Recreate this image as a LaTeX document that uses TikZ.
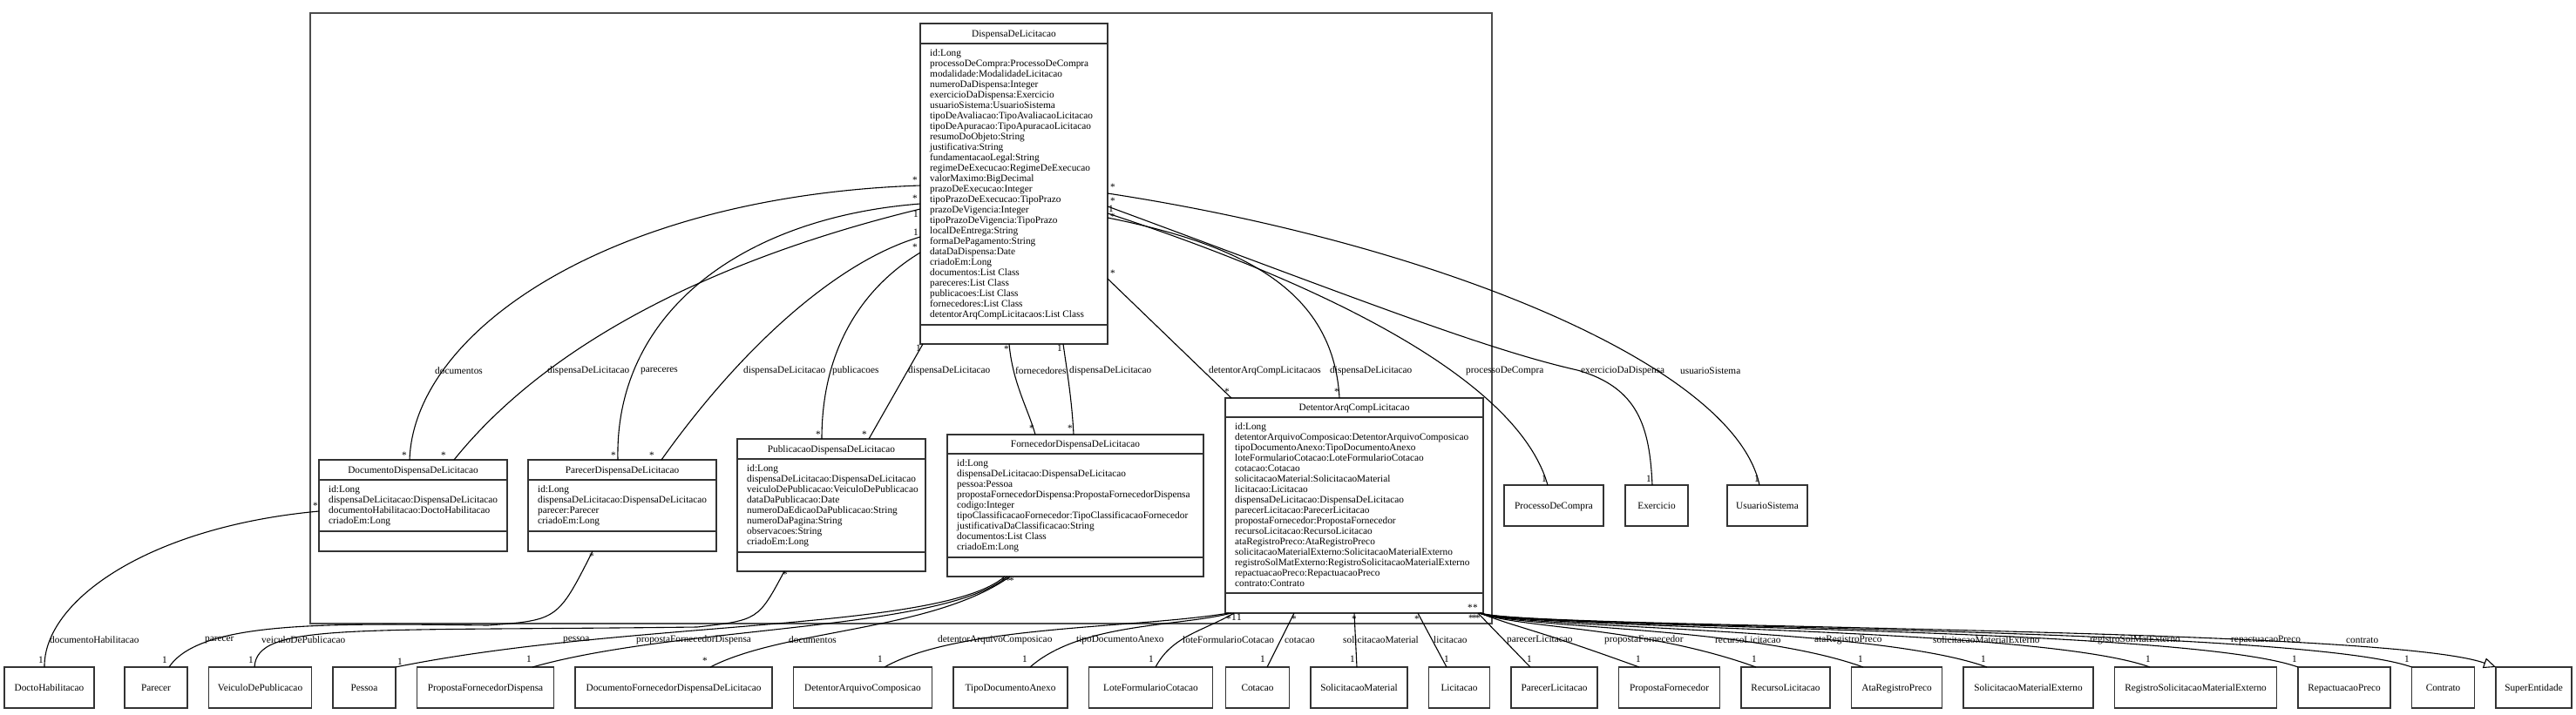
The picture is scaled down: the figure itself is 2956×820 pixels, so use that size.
\documentclass[tikz,border=0pt]{standalone}
\usepackage{fontspec}
\setmainfont{Liberation Serif}
\usetikzlibrary{positioning,arrows.meta}

% class box: name, x1, y1, x2, y2, title rule, attribute rule, title, attributes
\newcommand{\umlclass}[9]{%
  \node[class node,minimum width={#4-#2},minimum height={#5-#3}] (#1) at ({(#2+#4)/2},{(#3+#5)/2}) {};
  \draw[class line] (#2,#6) -- (#4,#6) (#2,#7) -- (#4,#7);
  \node[title text] at ({(#2+#4)/2},{(#3+#6)/2}) {#8};
  \node[attr text] at ({#2+11},{#6+6.5}) {#9};
}

\begin{document}
\begin{tikzpicture}[x=1pt,y=-1pt,node distance=24.5pt,
    class node/.style={rectangle,draw=black!80,line width=1.6pt,inner sep=0pt,outer sep=0pt},
    class line/.style={draw=black!80,line width=1.6pt},
    title text/.style={inner sep=0pt,text height=7.5pt,text depth=0pt,font=\fontsize{11.3}{12}\selectfont},
    attr text/.style={anchor=north west,align=left,inner sep=0pt,font=\fontsize{11.3}{12}\selectfont},
    ref node/.style={rectangle,draw=black!80,line width=1.6pt,minimum height=47pt,inner sep=0pt,outer sep=0pt,
      text height=7.5pt,text depth=0pt,font=\fontsize{11.3}{12}\selectfont},
    assoc/.style={draw=black,line width=1.1pt},
    role label/.style={anchor=west,inner sep=0pt,font=\fontsize{11.3}{12}\selectfont},
    mult/.style={inner sep=0pt,font=\fontsize{11.3}{12}\selectfont},
    package frame/.style={draw=black!70,line width=2pt}]

  \useasboundingbox (0,0) rectangle (2956,820);
  \draw[package frame] (356,15) rectangle (1712,716);

  \umlclass{1}{1056}{27}{1271}{395}{50}{373}{DispensaDeLicitacao}{id:Long\\
    processoDeCompra:ProcessoDeCompra\\modalidade:ModalidadeLicitacao\\numeroDaDispensa:Integer\\
    exercicioDaDispensa:Exercicio\\usuarioSistema:UsuarioSistema\\tipoDeAvaliacao:TipoAvaliacaoLicitacao\\
    tipoDeApuracao:TipoApuracaoLicitacao\\resumoDoObjeto:String\\justificativa:String\\
    fundamentacaoLegal:String\\regimeDeExecucao:RegimeDeExecucao\\valorMaximo:BigDecimal\\
    prazoDeExecucao:Integer\\tipoPrazoDeExecucao:TipoPrazo\\prazoDeVigencia:Integer\\
    tipoPrazoDeVigencia:TipoPrazo\\localDeEntrega:String\\formaDePagamento:String\\
    dataDaDispensa:Date\\criadoEm:Long\\documentos:List Class\\pareceres:List Class\\
    publicacoes:List Class\\fornecedores:List Class\\detentorArqCompLicitacaos:List Class}
  \umlclass{2}{366}{528}{582}{633}{551}{610}{DocumentoDispensaDeLicitacao}{id:Long\\
    dispensaDeLicitacao:DispensaDeLicitacao\\documentoHabilitacao:DoctoHabilitacao\\criadoEm:Long}
  \umlclass{3}{606}{528}{822}{633}{551}{610}{ParecerDispensaDeLicitacao}{id:Long\\
    dispensaDeLicitacao:DispensaDeLicitacao\\parecer:Parecer\\criadoEm:Long}
  \umlclass{4}{846}{504}{1062}{656}{527}{634}{PublicacaoDispensaDeLicitacao}{id:Long\\
    dispensaDeLicitacao:DispensaDeLicitacao\\veiculoDePublicacao:VeiculoDePublicacao\\
    dataDaPublicacao:Date\\numeroDaEdicaoDaPublicacao:String\\numeroDaPagina:String\\
    observacoes:String\\criadoEm:Long}
  \umlclass{5}{1087}{499}{1381}{662}{521}{640}{FornecedorDispensaDeLicitacao}{id:Long\\
    dispensaDeLicitacao:DispensaDeLicitacao\\pessoa:Pessoa\\
    propostaFornecedorDispensa:PropostaFornecedorDispensa\\codigo:Integer\\
    tipoClassificacaoFornecedor:TipoClassificacaoFornecedor\\justificativaDaClassificacao:String\\
    documentos:List Class\\criadoEm:Long}
  \umlclass{6}{1406}{457}{1702}{704}{479}{681}{DetentorArqCompLicitacao}{id:Long\\
    detentorArquivoComposicao:DetentorArquivoComposicao\\tipoDocumentoAnexo:TipoDocumentoAnexo\\
    loteFormularioCotacao:LoteFormularioCotacao\\cotacao:Cotacao\\
    solicitacaoMaterial:SolicitacaoMaterial\\licitacao:Licitacao\\
    dispensaDeLicitacao:DispensaDeLicitacao\\parecerLicitacao:ParecerLicitacao\\
    propostaFornecedor:PropostaFornecedor\\recursoLicitacao:RecursoLicitacao\\
    ataRegistroPreco:AtaRegistroPreco\\solicitacaoMaterialExterno:SolicitacaoMaterialExterno\\
    registroSolMatExterno:RegistroSolicitacaoMaterialExterno\\repactuacaoPreco:RepactuacaoPreco\\
    contrato:Contrato}

  \node[ref node,minimum width=114pt] (7) at (1783,580.5) {ProcessoDeCompra};
  \node[ref node,minimum width=72pt] (8) at (1901,580.5) {Exercicio};
  \node[ref node,minimum width=92pt] (9) at (2028,580.5) {UsuarioSistema};

  \node[ref node,minimum width=103pt] (10) at (56.5,789.5) {DoctoHabilitacao};
  \node[ref node,minimum width=72pt,right=35pt of 10] (11) {Parecer};
  \node[ref node,minimum width=118pt,right=of 11] (12) {VeiculoDePublicacao};
  \node[ref node,minimum width=72pt,right=of 12] (13) {Pessoa};
  \node[ref node,minimum width=157pt,right=of 13] (14) {PropostaFornecedorDispensa};
  \node[ref node,minimum width=226pt,right=of 14] (15) {DocumentoFornecedorDispensaDeLicitacao};
  \node[ref node,minimum width=159pt,right=of 15] (16) {DetentorArquivoComposicao};
  \node[ref node,minimum width=131pt,right=of 16] (17) {TipoDocumentoAnexo};
  \node[ref node,minimum width=142pt,right=of 17] (18) {LoteFormularioCotacao};
  \node[ref node,minimum width=73pt,right=15pt of 18] (19) {Cotacao};
  \node[ref node,minimum width=111pt,right=of 19] (20) {SolicitacaoMaterial};
  \node[ref node,minimum width=70pt,right=of 20] (21) {Licitacao};
  \node[ref node,minimum width=99pt,right=of 21] (22) {ParecerLicitacao};
  \node[ref node,minimum width=116pt,right=of 22] (23) {PropostaFornecedor};
  \node[ref node,minimum width=102pt,right=of 23] (24) {RecursoLicitacao};
  \node[ref node,minimum width=104pt,right=of 24] (25) {AtaRegistroPreco};
  \node[ref node,minimum width=149pt,right=of 25] (26) {SolicitacaoMaterialExterno};
  \node[ref node,minimum width=186pt,right=of 26] (27) {RegistroSolicitacaoMaterialExterno};
  \node[ref node,minimum width=106pt,right=of 27] (28) {RepactuacaoPreco};
  \node[ref node,minimum width=72pt,right=of 28] (29) {Contrato};
  \node[ref node,minimum width=87pt,right=of 29] (30) {SuperEntidade};

  % associations inside the package
  \draw[assoc] (1.west |- 0,213) .. controls (700,225) and (475,380) .. (2.north -| 470,0);
  \draw[assoc] (2.north -| 521,0) .. controls (640,380) and (850,290) .. (1.west |- 0,240);
  \draw[assoc] (1.west |- 0,234) .. controls (850,250) and (705,360) .. (3.north -| 709,0);
  \draw[assoc] (3.north -| 759,0) .. controls (850,400) and (960,300) .. (1.west |- 0,272);
  \draw[assoc] (1.west |- 0,290) .. controls (990,330) and (943,400) .. (4.north -| 943,0);
  \draw[assoc] (4.north -| 997,0) -- (1.south -| 1059,0);
  \draw[assoc] (1.south -| 1158,0) .. controls (1162,440) and (1180,470) .. (5.north -| 1188,0);
  \draw[assoc] (5.north -| 1232,0) .. controls (1230,460) and (1225,430) .. (1.south -| 1220,0);
  \draw[assoc] (1.east |- 0,320) -- (6.north -| 1413,0);
  \draw[assoc] (6.north -| 1537,0) .. controls (1530,330) and (1420,280) .. (1.east |- 0,250);
  %\draw[assoc] (1.east |- 0,245) -- (7.north -| 1776,0);
  \draw[assoc] (1.east |- 0,245) .. controls (1500,320) and (1740,430) .. (7.north -| 1776,0);
  \draw[assoc] (1.east |- 0,237) .. controls (1550,340) and (1700,400) .. (1810,425)
    .. controls (1880,445) and (1893,490) .. (8.north -| 1896,0);
  \draw[assoc] (1.east |- 0,222) .. controls (1650,280) and (1990,420) .. (9.north -| 2019,0);

  % associations to the bottom row
  \draw[assoc] (2.west |- 0,587) .. controls (170,605) and (50,690) .. (10.north -| 51,0);
  \draw[assoc] (3.south -| 680,0) .. controls (640,712) .. (560,718)
    .. controls (380,716) and (230,712) .. (11.north -| 194,0);
  \draw[assoc] (4.south -| 900,0) .. controls (870,712) .. (800,720)
    .. controls (400,725) and (295,715) .. (12.north -| 292,0);
  \draw[assoc] (5.south -| 1153,0) .. controls (1080,725) and (720,712) .. (13.north east);
  \draw[assoc] (5.south -| 1156,0) .. controls (1080,725) and (780,718) .. (14.north -| 611,0);
  \draw[assoc] (5.south -| 1159,0) .. controls (1070,725) and (900,722) .. (15.north -| 815,0);
  \draw[assoc] (6.south -| 1410,0) .. controls (1300,722) and (1100,718) .. (16.north -| 1015,0);
  \draw[assoc] (6.south -| 1413,0) .. controls (1350,720) and (1240,715) .. (17.north -| 1182,0);
  \draw[assoc] (6.south -| 1416,0) .. controls (1380,725) and (1345,730) .. (18.north -| 1326,0);
  \draw[assoc] (6.south -| 1485,0) -- (19.north -| 1454,0);
  \draw[assoc] (6.south -| 1554,0) -- (20.north -| 1557,0);
  \draw[assoc] (6.south -| 1627,0) -- (21.north -| 1660,0);
  \draw[assoc] (6.south -| 1696,0) -- (22.north -| 1756,0);
  \draw[assoc] (6.south -| 1698,0) .. controls (1745,722) and (1751,719) .. (23.north -| 1881,0);
  \draw[assoc] (6.south -| 1698,0) .. controls (1745,722) and (1885,719) .. (24.north -| 2015,0);
  \draw[assoc] (6.south -| 1698,0) .. controls (1745,722) and (2008,719) .. (25.north -| 2138,0);
  \draw[assoc] (6.south -| 1698,0) .. controls (1745,722) and (2150,719) .. (26.north -| 2280,0);
  \draw[assoc] (6.south -| 1698,0) .. controls (1745,722) and (2337,719) .. (27.north -| 2467,0);
  \draw[assoc] (6.south -| 1698,0) .. controls (1745,722) and (2507,719) .. (28.north west);
  \draw[assoc] (6.south -| 1698,0) .. controls (1745,722) and (2637,719) .. (29.north west);
  \draw[assoc,-{Triangle[open,length=14pt,width=12pt]}] (6.south -| 1700,0)
    .. controls (1745,722) and (2733,719) .. (30.north west);

  % role names
  \node[role label] at (499,426) {documentos};
  \node[role label] at (628,426) {dispensaDeLicitacao};
  \node[role label] at (735,426) {pareceres};
  \node[role label] at (853,426) {dispensaDeLicitacao};
  \node[role label] at (955,426) {publicacoes};
  \node[role label] at (1042,426) {dispensaDeLicitacao};
  \node[role label] at (1165,426) {fornecedores};
  \node[role label] at (1227,426) {dispensaDeLicitacao};
  \node[role label] at (1387,426) {detentorArqCompLicitacaos};
  \node[role label] at (1526,426) {dispensaDeLicitacao};
  \node[role label] at (1682,426) {processoDeCompra};
  \node[role label] at (1814,426) {exercicioDaDispensa};
  \node[role label] at (1928,426) {usuarioSistema};
  \node[role label] at (57,735) {documentoHabilitacao};
  \node[role label] at (235,735) {parecer};
  \node[role label] at (300,735) {veiculoDePublicacao};
  \node[role label] at (646,735) {pessoa};
  \node[role label] at (730,735) {propostaFornecedorDispensa};
  \node[role label] at (905,735) {documentos};
  \node[role label] at (1076,735) {detentorArquivoComposicao};
  \node[role label] at (1235,735) {tipoDocumentoAnexo};
  \node[role label] at (1357,735) {loteFormularioCotacao};
  \node[role label] at (1474,735) {cotacao};
  \node[role label] at (1541,735) {solicitacaoMaterial};
  \node[role label] at (1645,735) {licitacao};
  \node[role label] at (1729,735) {parecerLicitacao};
  \node[role label] at (1841,735) {propostaFornecedor};
  \node[role label] at (1968,735) {recursoLicitacao};
  \node[role label] at (2082,735) {ataRegistroPreco};
  \node[role label] at (2218,735) {solicitacaoMaterialExterno};
  \node[role label] at (2398,735) {registroSolMatExterno};
  \node[role label] at (2560,735) {repactuacaoPreco};
  \node[role label] at (2692,735) {contrato};

  % multiplicities
  \node[mult] at (1050,207) {*};
  \node[mult] at (1050,228) {*};
  \node[mult] at (1051,246) {1};
  \node[mult] at (1051,267) {1};
  \node[mult] at (1050,284) {*};
  \node[mult] at (1277,215) {*};
  \node[mult] at (1277,231) {*};
  \node[mult] at (1275,240) {1};
  \node[mult] at (1277,249) {*};
  \node[mult] at (1277,314) {*};
  \node[mult] at (1054,400) {1};
  \node[mult] at (1155,401) {*};
  \node[mult] at (1216,400) {1};
  \node[mult] at (464,523) {*};
  \node[mult] at (509,523) {*};
  \node[mult] at (362,581) {*};
  \node[mult] at (704,523) {*};
  \node[mult] at (748,523) {*};
  \node[mult] at (679,639) {*};
  \node[mult] at (939,499) {*};
  \node[mult] at (992,499) {*};
  \node[mult] at (901,660) {*};
  \node[mult] at (1184,492) {*};
  \node[mult] at (1228,492) {*};
  \node[mult] at (1152,667) {*};
  \node[mult] at (1157,667) {*};
  \node[mult] at (1161,667) {*};
  \node[mult] at (1408,450) {*};
  \node[mult] at (1534,450) {*};
  \node[mult] at (1410,711) {*};
  \node[mult] at (1416,709) {1};
  \node[mult] at (1422,709) {1};
  \node[mult] at (1485,711) {*};
  \node[mult] at (1554,711) {*};
  \node[mult] at (1626,711) {*};
  \node[mult] at (1687,698) {*};
  \node[mult] at (1693,698) {*};
  \node[mult] at (1688,710) {*};
  \node[mult] at (1692,710) {*};
  \node[mult] at (1696,710) {*};
  \node[mult] at (1772,550) {1};
  \node[mult] at (1892,550) {1};
  \node[mult] at (2016,550) {1};
  \node[mult] at (47,758) {1};
  \node[mult] at (189,758) {1};
  \node[mult] at (288,758) {1};
  \node[mult] at (459,760) {1};
  \node[mult] at (607,757) {1};
  \node[mult] at (809,759) {*};
  \node[mult] at (1010,757) {1};
  \node[mult] at (1176,757) {1};
  \node[mult] at (1321,757) {1};
  \node[mult] at (1449,757) {1};
  \node[mult] at (1552,757) {1};
  \node[mult] at (1660,757) {1};
  \node[mult] at (1755,757) {1};
  \node[mult] at (1880,757) {1};
  \node[mult] at (2013,757) {1};
  \node[mult] at (2135,757) {1};
  \node[mult] at (2276,757) {1};
  \node[mult] at (2465,757) {1};
  \node[mult] at (2633,757) {1};
  \node[mult] at (2762,757) {1};
\end{tikzpicture}
\end{document}
